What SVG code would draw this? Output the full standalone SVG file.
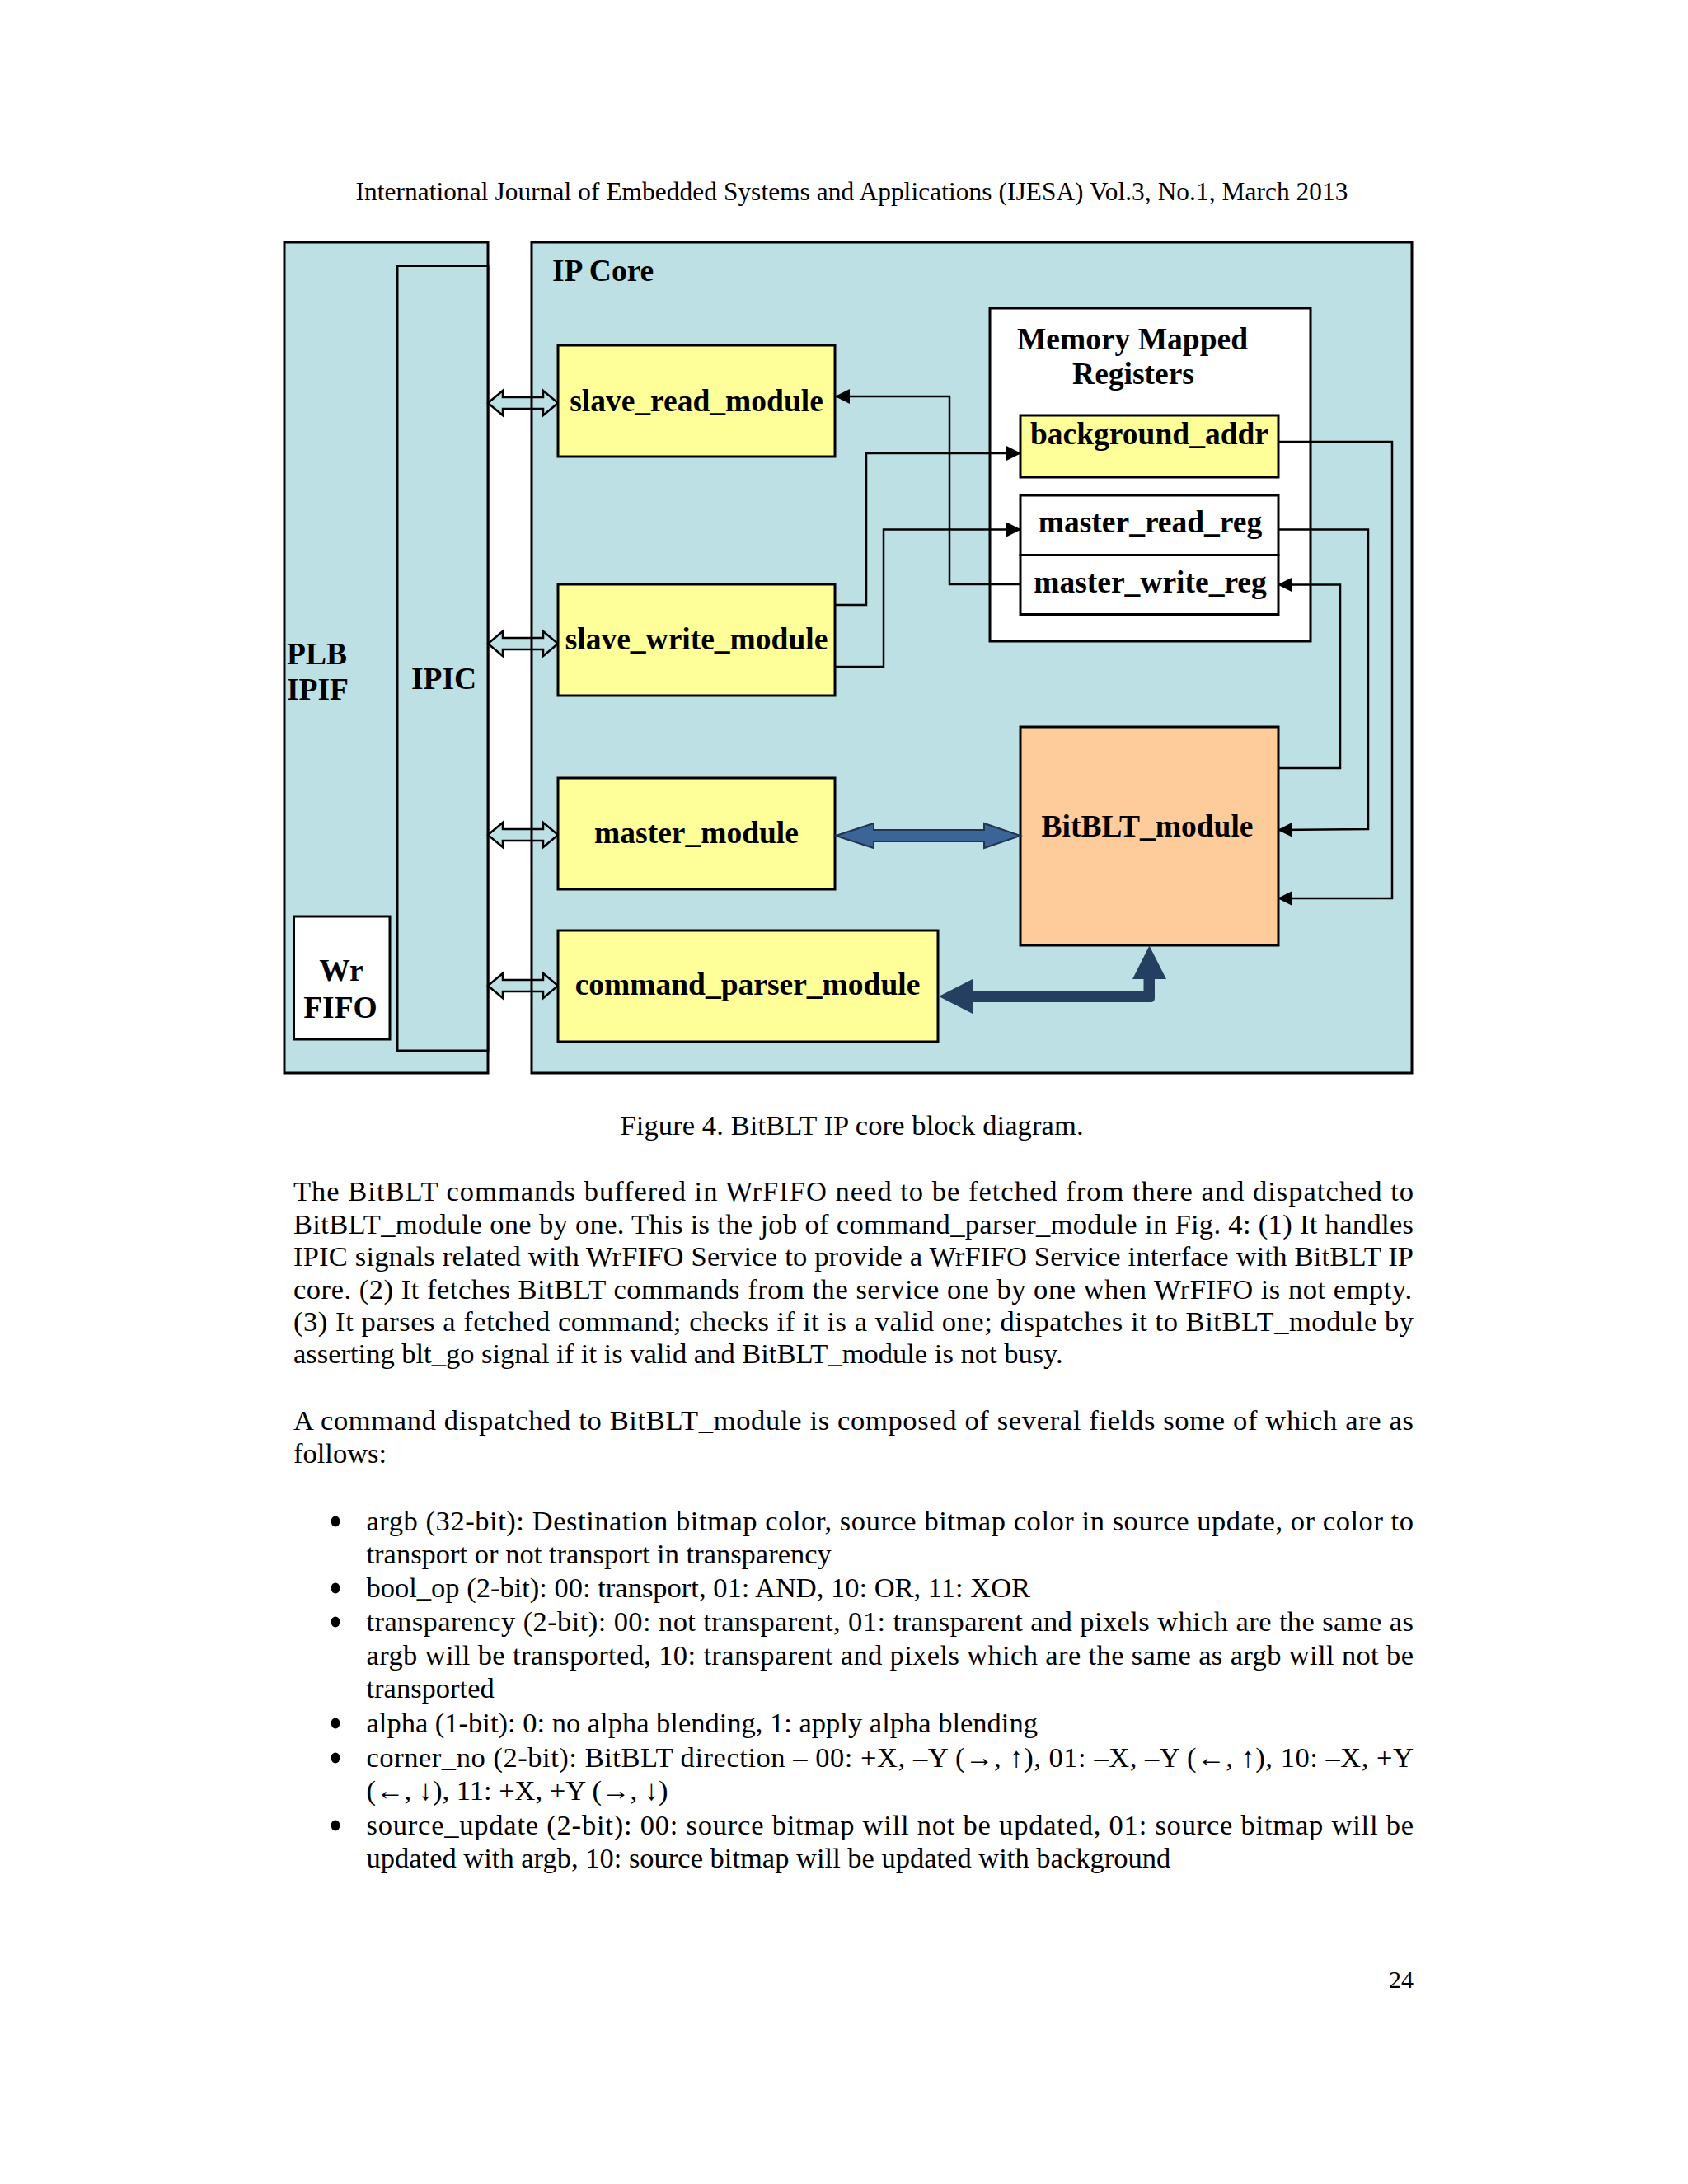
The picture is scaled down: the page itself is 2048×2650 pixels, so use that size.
<svg xmlns="http://www.w3.org/2000/svg" width="2048" height="2650" viewBox="0 0 2048 2650">
<style>
.box{stroke:#000;stroke-width:3}
.lb{fill:#bce0e3}
.yl{fill:#ffff99}
.wh{fill:#fff}
.or{fill:#fdcc9a}
.lbl{font-family:"Liberation Serif","Times New Roman",serif;font-weight:bold;font-size:37.5px;fill:#000}
.c{text-anchor:middle}
.body{font-family:"Liberation Serif","Times New Roman",serif;font-size:34.5px;fill:#000}
.con{fill:none;stroke:#000;stroke-width:2.5}
.harr{fill:#bce0e3;stroke:#000;stroke-width:2.5;stroke-linejoin:miter}
</style>
<defs>
<marker id="ah" markerUnits="userSpaceOnUse" markerWidth="18" markerHeight="18" viewBox="0 0 18 18" refX="17" refY="9" orient="auto">
<path d="M0,0 L18,9 L0,18 Z" fill="#000"/>
</marker>
</defs>
<rect width="2048" height="2650" fill="#fff"/>

<text class="body" x="431.5" y="243" style="font-size:31.3px" textLength="1204">International Journal of Embedded Systems and Applications (IJESA) Vol.3, No.1, March 2013</text>

<g id="plb_ipif">
<rect class="box lb" x="345" y="294" width="247" height="1008"/>
<text class="lbl" x="348" y="806">PLB</text>
<text class="lbl" x="348" y="849">IPIF</text>
</g>
<g id="ipic">
<rect class="box lb" x="482" y="322.5" width="110" height="952.5"/>
<text class="lbl" x="499" y="836">IPIC</text>
</g>
<g id="wr_fifo">
<rect class="box wh" x="356.5" y="1112" width="116.5" height="149"/>
<text class="lbl c" x="414" y="1190">Wr</text>
<text class="lbl c" x="413" y="1235">FIFO</text>
</g>
<g id="ip_core">
<rect class="lb" x="645" y="294" width="1068" height="1008"/>
<text class="lbl" x="670" y="341">IP Core</text>
</g>

<g id="bus_arrows">
<polygon class="harr" points="592,489 610,474 610,482 659,482 659,474 677,489 659,504 659,496 610,496 610,504"/>
<polygon class="harr" points="592,781 610,766 610,774 659,774 659,766 677,781 659,796 659,788 610,788 610,796"/>
<polygon class="harr" points="592,1013 610,998 610,1006 659,1006 659,998 677,1013 659,1028 659,1020 610,1020 610,1028"/>
<polygon class="harr" points="592,1196 610,1181 610,1189 659,1189 659,1181 677,1196 659,1211 659,1203 610,1203 610,1211"/>
</g>
<rect class="box" fill="none" x="645" y="294" width="1068" height="1008"/>

<g id="mem_regs">
<rect class="box wh" x="1201" y="374" width="389" height="404"/>
<text class="lbl c" x="1374" y="424">Memory Mapped</text>
<text class="lbl c" x="1375" y="466">Registers</text>
</g>
<g id="background_addr">
<rect class="box yl" x="1238" y="504" width="313" height="75"/>
<text class="lbl c" x="1394.5" y="539">background_addr</text>
</g>
<g id="master_read_reg">
<rect class="box wh" x="1238" y="601" width="313" height="72.5"/>
<text class="lbl c" x="1395.5" y="646">master_read_reg</text>
</g>
<g id="master_write_reg">
<rect class="box wh" x="1238" y="673.5" width="313" height="72"/>
<text class="lbl c" x="1395.5" y="718.5">master_write_reg</text>
</g>
<g id="slave_read_module">
<rect class="box yl" x="677" y="419" width="336" height="135"/>
<text class="lbl c" x="845" y="499">slave_read_module</text>
</g>
<g id="slave_write_module">
<rect class="box yl" x="677" y="709" width="336" height="135"/>
<text class="lbl c" x="845" y="788">slave_write_module</text>
</g>
<g id="master_module">
<rect class="box yl" x="677" y="944" width="336" height="135"/>
<text class="lbl c" x="845" y="1023">master_module</text>
</g>
<g id="command_parser_module">
<rect class="box yl" x="677" y="1129" width="461" height="135"/>
<text class="lbl c" x="907" y="1207">command_parser_module</text>
</g>
<g id="bitblt_module">
<rect class="box or" x="1238" y="882" width="313" height="265"/>
<text class="lbl c" x="1392" y="1015">BitBLT_module</text>
</g>

<g id="connectors">
<polyline class="con" points="1238,709 1152,709 1152,481 1014,481" marker-end="url(#ah)"/>
<polyline class="con" points="1013,734 1051,734 1051,550 1238,550" marker-end="url(#ah)"/>
<polyline class="con" points="1013,809 1072,809 1072,642.5 1238,642.5" marker-end="url(#ah)"/>
<polyline class="con" points="1551,536 1689,536 1689,1090 1551,1090" marker-end="url(#ah)"/>
<polyline class="con" points="1551,642.5 1660,642.5 1660,1006 1551,1007" marker-end="url(#ah)"/>
<polyline class="con" points="1551,932 1626,932 1626,709.5 1551,709.5" marker-end="url(#ah)"/>
<polygon fill="#3b6497" stroke="#1f3550" stroke-width="2" points="1014,1014 1060,999 1060,1007 1194,1007 1194,999 1238,1014 1194,1029 1194,1021 1060,1021 1060,1029"/>
<path fill="#243f60" d="M1139,1209 L1180,1188 L1180,1202.5 L1387.5,1202.5 L1387.5,1188 L1374,1188 L1394.5,1147.5 L1415,1188 L1401,1188 L1401,1211 Q1401,1216 1396,1216 L1180,1216 L1180,1230 Z"/>
</g>

<text class="body" x="752.5" y="1377" textLength="562">Figure 4. BitBLT IP core block diagram.</text>

<g id="bullets" fill="#000">
<ellipse cx="407" cy="1846" rx="5.5" ry="6.5"/>
<ellipse cx="407" cy="1927" rx="5.5" ry="6.5"/>
<ellipse cx="407" cy="1968" rx="5.5" ry="6.5"/>
<ellipse cx="407" cy="2091" rx="5.5" ry="6.5"/>
<ellipse cx="407" cy="2133" rx="5.5" ry="6.5"/>
<ellipse cx="407" cy="2215" rx="5.5" ry="6.5"/>
</g>

<g class="body">
<text x="356" y="1457" textLength="1359" lengthAdjust="spacing">The BitBLT commands buffered in WrFIFO need to be fetched from there and dispatched to</text>
<text x="356" y="1497" textLength="1359" lengthAdjust="spacing">BitBLT_module one by one. This is the job of command_parser_module in Fig. 4: (1) It handles</text>
<text x="356" y="1536" textLength="1359" lengthAdjust="spacing">IPIC signals related with WrFIFO Service to provide a WrFIFO Service interface with BitBLT IP</text>
<text x="356" y="1575.5" textLength="1357" lengthAdjust="spacing">core. (2) It fetches BitBLT commands from the service one by one when WrFIFO is not empty.</text>
<text x="356" y="1615" textLength="1359" lengthAdjust="spacing">(3) It parses a fetched command; checks if it is a valid one; dispatches it to BitBLT_module by</text>
<text x="356" y="1654">asserting blt_go signal if it is valid and BitBLT_module is not busy.</text>
<text x="356" y="1735" textLength="1359" lengthAdjust="spacing">A command dispatched to BitBLT_module is composed of several fields some of which are as</text>
<text x="356" y="1775">follows:</text>
<text x="444.5" y="1857" textLength="1270.5" lengthAdjust="spacing">argb (32-bit): Destination bitmap color, source bitmap color in source update, or color to</text>
<text x="444.5" y="1897">transport or not transport in transparency</text>
<text x="444.5" y="1938">bool_op (2-bit): 00: transport, 01: AND, 10: OR, 11: XOR</text>
<text x="444.5" y="1979" textLength="1270.5" lengthAdjust="spacing">transparency (2-bit): 00: not transparent, 01: transparent and pixels which are the same as</text>
<text x="444.5" y="2020" textLength="1270.5" lengthAdjust="spacing">argb will be transported, 10: transparent and pixels which are the same as argb will not be</text>
<text x="444.5" y="2060">transported</text>
<text x="444.5" y="2102">alpha (1-bit): 0: no alpha blending, 1: apply alpha blending</text>
<text x="444.5" y="2144" textLength="1270.5" lengthAdjust="spacing">corner_no (2-bit): BitBLT direction – 00: +X, –Y (→, ↑), 01: –X, –Y (←, ↑), 10:  –X, +Y</text>
<text x="444.5" y="2184">(←, ↓), 11: +X, +Y (→, ↓)</text>
<text x="444.5" y="2226" textLength="1270.5" lengthAdjust="spacing">source_update (2-bit): 00: source bitmap will not be updated, 01: source bitmap will be</text>
<text x="444.5" y="2266">updated with argb, 10: source bitmap will be updated with background</text>
<text x="1685" y="2412" style="font-size:30px">24</text>
</g>
</svg>
